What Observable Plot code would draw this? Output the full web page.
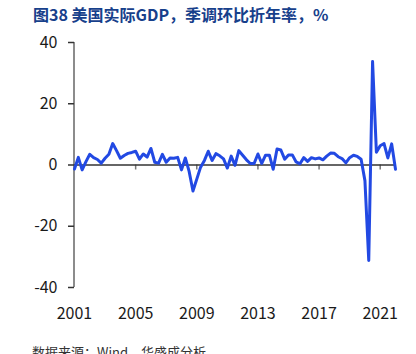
<!DOCTYPE html>
<html>
<head>
<meta charset="utf-8">
<script src="https://cdn.jsdelivr.net/npm/d3@7"></script>
<script src="https://cdn.jsdelivr.net/npm/@observablehq/plot@0.6"></script>
<style>
  html, body { margin: 0; padding: 0; background: #fff; }
  #wrap { position: relative; width: 416px; height: 354px; overflow: hidden; font-family: "Noto Sans CJK SC", "Noto Sans", sans-serif; }
  #title { position: absolute; left: 33px; top: 4px; font-size: 16px; line-height: 20px; font-weight: bold; color: #17408b; white-space: nowrap; }
  #chart { position: absolute; left: 0; top: 32px; }
  #footer { position: absolute; left: 32px; top: 344px; font-size: 13px; line-height: 16px; color: #333; white-space: nowrap; }
</style>
</head>
<body>
<div id="wrap">
  <div id="title">图38 美国实际GDP，季调环比折年率，%</div>
  <div id="chart"></div>
  <div id="footer">数据来源：Wind，华盛成分析</div>
</div>
<script>
// US real GDP, QoQ SAAR (%), quarterly from 2001Q1 to 2022Q1
const startYear = 2001;
const gdpGrowth = [
  -1.3, 2.5, -1.6, 1.1,   // 2001
  3.5, 2.4, 1.8, 0.6,     // 2002
  2.2, 3.5, 7.0, 4.7,     // 2003
  2.2, 3.1, 3.8, 4.1,     // 2004
  4.5, 1.9, 3.6, 2.6,     // 2005
  5.4, 0.9, 0.6, 3.5,     // 2006
  0.9, 2.3, 2.2, 2.5,     // 2007
  -1.6, 2.3, -2.1, -8.5,  // 2008
  -4.6, -0.7, 1.5, 4.5,   // 2009
  1.5, 3.7, 3.0, 2.0,     // 2010
  -1.0, 2.9, -0.1, 4.7,   // 2011
  3.2, 1.7, 0.5, 0.5,     // 2012
  3.6, 0.5, 3.2, 3.2,     // 2013
  -1.4, 5.2, 4.9, 1.9,    // 2014
  3.3, 3.3, 1.0, 0.4,     // 2015
  2.4, 1.2, 2.4, 2.0,     // 2016
  2.3, 1.7, 2.9, 3.9,     // 2017
  3.8, 2.7, 2.1, 0.7,     // 2018
  2.4, 3.2, 2.8, 1.9,     // 2019
  -5.1, -31.2, 33.8, 4.2, // 2020
  6.3, 7.0, 2.3, 6.9,     // 2021
  -1.4                    // 2022
];
const xTicks = [2001, 2005, 2009, 2013, 2017, 2021];
const xTickLabels = ["2001", "2005", "2009", "2013", "2017", "2021"];
const yTicks = [-40, -20, 0, 20, 40];
const yTickLabels = ["-40", "-20", "0", "20", "40"];

const data = gdpGrowth.map((v, i) => ({ t: startYear + i / 4, v }));
const tEnd = data[data.length - 1].t;

const chart = Plot.plot({
  width: 416,
  height: 300,
  marginLeft: 74,
  marginRight: 21,
  marginTop: 10,
  marginBottom: 45,
  style: { fontFamily: "'Noto Sans CJK SC', 'Noto Sans', sans-serif", fontSize: "16px", color: "#1a1a1a", background: "#fff" },
  x: { domain: [startYear, tEnd], label: null },
  y: { domain: [-40, 40], label: null },
  marks: [
    Plot.ruleX([startYear], { stroke: "#8c8c8c", strokeWidth: 2, dx: -0.5 }),
    Plot.axisY({ ticks: yTicks, tickFormat: d => yTickLabels[yTicks.indexOf(d)], label: null, tickSize: 6, tickPadding: 11, stroke: "#333", strokeWidth: 1.5, fill: "#1a1a1a", fontSize: 16 }),
    Plot.axisX({ ticks: xTicks, tickFormat: d => xTickLabels[xTicks.indexOf(d)], label: null, tickSize: 0, tickPadding: 20, fill: "#1a1a1a", fontSize: 16 }),
    Plot.ruleX(xTicks.slice(1), { y1: 0, y2: 0, insetBottom: -5, stroke: "#777", strokeWidth: 1.5 }),
    Plot.ruleY([0], { stroke: "#333", strokeWidth: 1.5 }),
    Plot.line(data, { x: "t", y: "v", stroke: "#2249e3", strokeWidth: 3, strokeLinejoin: "round", strokeLinecap: "round" })
  ]
});
document.getElementById("chart").appendChild(chart);
</script>
</body>
</html>
